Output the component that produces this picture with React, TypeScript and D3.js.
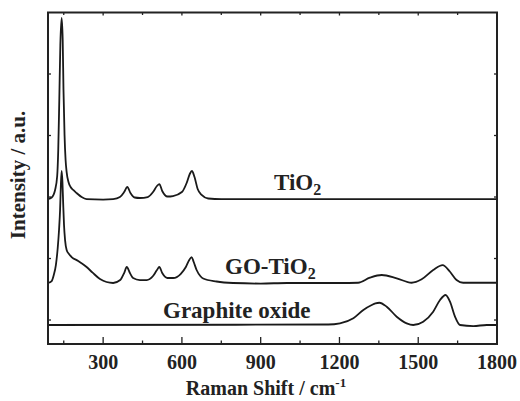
import React, { useEffect, useRef } from 'react';
import * as d3 from 'd3';

// Raman shift (cm-1) / intensity (a.u., curves already offset)
const tio2Shift = [90, 104, 117, 125, 129, 133, 137, 142, 146, 149, 153, 157, 161, 168, 176, 186, 199, 218, 237, 300, 338, 364, 380, 392, 404, 420, 440, 470, 490, 505, 514, 525, 545, 566, 600, 618, 630, 638, 648, 660, 675, 700, 750, 1800];
const tio2Int = [1967, 1992, 2114, 2341, 2764, 3577, 4472, 4911, 4553, 3740, 3008, 2602, 2406, 2244, 2163, 2114, 2065, 2000, 1967, 1959, 1967, 2000, 2081, 2163, 2065, 1992, 1984, 2000, 2081, 2179, 2211, 2098, 2008, 2016, 2081, 2228, 2374, 2423, 2325, 2130, 2033, 1976, 1967, 1967];

const goTio2Shift = [90, 104, 112, 120, 127, 132, 136, 139, 142, 145, 148, 151, 155, 161, 170, 180, 205, 237, 260, 288, 338, 365, 380, 390, 402, 414, 440, 466, 490, 505, 514, 525, 545, 567, 595, 615, 628, 637, 645, 656, 670, 681, 732, 795, 900, 1000, 1100, 1200, 1271, 1316, 1361, 1418, 1475, 1513, 1557, 1593, 1621, 1646, 1671, 1800];
const goTio2Int = [602, 634, 732, 894, 1171, 1463, 1789, 2195, 2423, 2244, 1870, 1545, 1300, 1140, 1073, 1024, 960, 862, 770, 667, 602, 650, 764, 862, 764, 683, 650, 650, 715, 813, 862, 764, 683, 683, 748, 862, 976, 1024, 943, 813, 715, 675, 626, 602, 593, 602, 602, 602, 606, 688, 732, 678, 606, 662, 813, 894, 785, 650, 606, 606];

const goShift = [90, 1157, 1202, 1253, 1291, 1323, 1337, 1352, 1380, 1418, 1456, 1481, 1519, 1557, 1583, 1604, 1621, 1640, 1659, 1710, 1761, 1800];
const goInt = [-81, -73, -54, 28, 163, 244, 270, 281, 216, 54, -54, -81, -28, 135, 325, 407, 298, 54, -81, -98, -81, -81];

const xTicks = [300, 600, 900, 1200, 1500, 1800];
const xMinorTicks = [150, 450, 750, 1050, 1350, 1650];
const yTicks = [0, 1000, 2000, 3000, 4000];

const W = 520, H = 401;
const FONT = '"Liberation Serif", "Times New Roman", serif';

export default function App() {
  const ref = useRef<SVGSVGElement>(null);

  useEffect(() => {
    document.body.style.margin = '0';
    const svg = d3.select(ref.current);
    svg.selectAll('*').remove();

    const left = 48, right = 497, top = 12.5, bottom = 344;
    const x = d3.scaleLinear().domain([90, 1800]).range([left, right]);
    const y = d3.scaleLinear().domain([-390, 5000]).range([bottom, top]);

    const line = d3.line<[number, number]>()
      .x(d => x(d[0]))
      .y(d => y(d[1]))
      .curve(d3.curveMonotoneX);

    const series = [
      { sx: tio2Shift, sy: tio2Int },
      { sx: goTio2Shift, sy: goTio2Int },
      { sx: goShift, sy: goInt },
    ];

    svg.append('g')
      .selectAll('path')
      .data(series)
      .join('path')
      .attr('d', s => line(s.sx.map((v, i) => [v, s.sy[i]] as [number, number])))
      .attr('fill', 'none')
      .attr('stroke', '#1a1a1a')
      .attr('stroke-width', 1.8);

    // ticks, all pointing inward
    const tk = svg.append('g').attr('stroke', '#222').attr('stroke-width', 1.3);
    xTicks.forEach(t => {
      tk.append('line').attr('x1', x(t)).attr('x2', x(t)).attr('y1', bottom).attr('y2', bottom - 7);
      tk.append('line').attr('x1', x(t)).attr('x2', x(t)).attr('y1', top).attr('y2', top + 3);
    });
    xMinorTicks.forEach(t => {
      tk.append('line').attr('x1', x(t)).attr('x2', x(t)).attr('y1', bottom).attr('y2', bottom - 3.5);
      tk.append('line').attr('x1', x(t)).attr('x2', x(t)).attr('y1', top).attr('y2', top + 2.5);
    });
    yTicks.forEach(t => {
      tk.append('line').attr('x1', left).attr('x2', left + 3).attr('y1', y(t)).attr('y2', y(t));
      tk.append('line').attr('x1', right).attr('x2', right - 3).attr('y1', y(t)).attr('y2', y(t));
    });

    svg.append('rect')
      .attr('x', left).attr('y', top)
      .attr('width', right - left).attr('height', bottom - top)
      .attr('fill', 'none').attr('stroke', '#222').attr('stroke-width', 2);

    svg.append('g')
      .selectAll('text')
      .data(xTicks)
      .join('text')
      .attr('x', d => x(d))
      .attr('y', 369)
      .attr('text-anchor', 'middle')
      .attr('font-family', FONT)
      .attr('font-weight', 'bold')
      .attr('font-size', 20)
      .attr('fill', '#222')
      .text(d => d);

    const title = svg.append('text')
      .attr('x', 266).attr('y', 395)
      .attr('text-anchor', 'middle')
      .attr('font-family', FONT).attr('font-weight', 'bold')
      .attr('font-size', 20).attr('fill', '#222');
    title.append('tspan').text('Raman Shift / cm');
    title.append('tspan').attr('font-size', 13).attr('dy', -8).text('-1');

    svg.append('text')
      .attr('transform', 'translate(25,175) rotate(-90)')
      .attr('text-anchor', 'middle')
      .attr('font-family', FONT).attr('font-weight', 'bold')
      .attr('font-size', 21).attr('fill', '#222')
      .text('Intensity / a.u.');

    const label = (tx: number, ty: number, main: string, sub?: string) => {
      const t = svg.append('text')
        .attr('x', tx).attr('y', ty)
        .attr('font-family', FONT).attr('font-weight', 'bold')
        .attr('font-size', 23).attr('fill', '#222');
      t.append('tspan').text(main);
      if (sub) t.append('tspan').attr('font-size', 16).attr('dy', 5).text(sub);
    };
    label(274, 190, 'TiO', '2');
    label(225, 273.5, 'GO-TiO', '2');
    label(163, 317.5, 'Graphite oxide');
  }, []);

  return <svg ref={ref} width={W} height={H} style={{ display: 'block', background: '#fff' }} />;
}
